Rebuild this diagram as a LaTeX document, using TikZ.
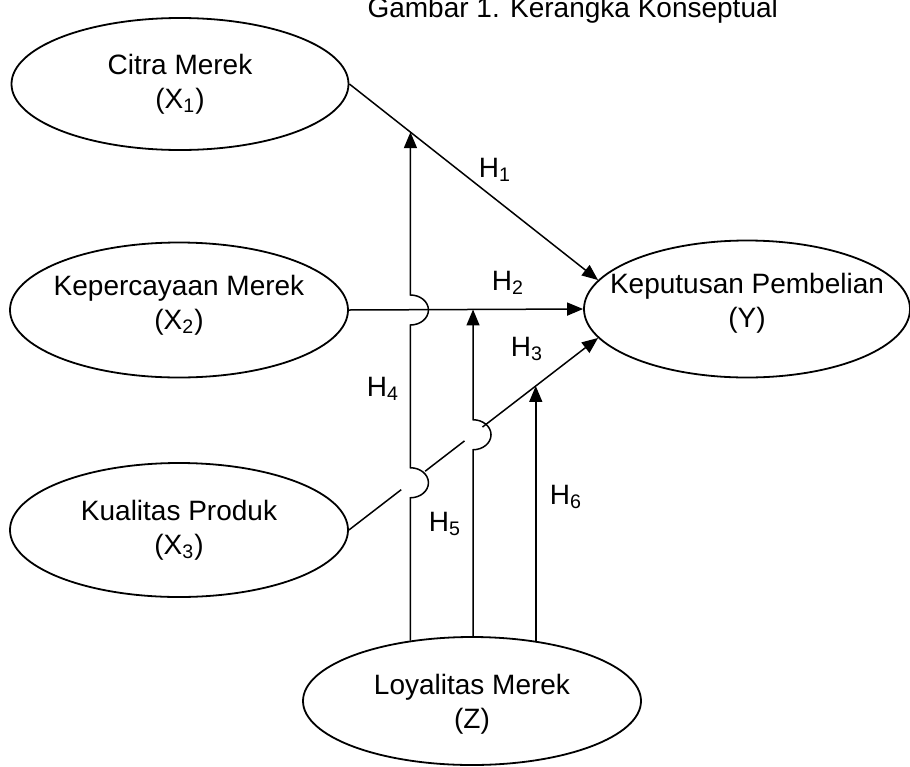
\documentclass[tikz,border=0pt]{standalone}
\usepackage{fontspec}
\setmainfont{Liberation Sans}
\usetikzlibrary{shapes.geometric,arrows.meta,calc}

\begin{document}
\begin{tikzpicture}[x=0.5pt,y=-0.5pt,
    konstruk/.style={draw,ellipse,line width=0.9pt,inner sep=0pt},
    teks/.style={align=center,font=\fontsize{14}{17}\selectfont},
    hlabel/.style={font=\fontsize{14}{17}\selectfont},
    panah/.style={line width=0.75pt,-{Triangle[length=8pt,width=6.5pt]}}]

\useasboundingbox (0,0) rectangle (910,766);

% Title
\node[hlabel,anchor=base east] (judul) at (785,17) {Gambar 1. Kerangka Konseptual};

% Variables
\node[konstruk,minimum width=168.5pt,minimum height=66pt] (citra) at (180,84) {};
\node[teks] at (180,84) {Citra Merek\\(X\textsubscript{1})};
\node[konstruk,minimum width=169pt,minimum height=67.5pt] (percaya) at (179,310) {};
\node[teks] at (179,305) {Kepercayaan Merek\\(X\textsubscript{2})};
\node[konstruk,minimum width=169pt,minimum height=67pt] (kualitas) at (179,530) {};
\node[teks] at (179,530) {Kualitas Produk\\(X\textsubscript{3})};
\node[konstruk,minimum width=163pt,minimum height=68.5pt] (keputusan) at (747,309) {};
\node[teks] at (747,303) {Keputusan Pembelian\\(Y)};
\node[konstruk,minimum width=169pt,minimum height=64pt] (loyal) at (472,701) {};
\node[teks] at (472,704) {Loyalitas Merek\\(Z)};

% Points where the moderating arrows meet
\coordinate (t4) at ($(citra.east)!0.2455!(keputusan.169)$);
\coordinate (t5) at ($(percaya.east)!0.53!(keputusan.west)$);
\coordinate (t6) at ($(kualitas.east)!0.75!(keputusan.191)$);
\coordinate (s4) at ($(kualitas.east)!0.246!(keputusan.191)$);
\coordinate (s5) at ($(kualitas.east)!0.496!(keputusan.191)$);
\coordinate (j4a) at (t4 |- percaya.east);
\coordinate (j4b) at (t4 |- s4);
\coordinate (j5) at (t5 |- s5);

% Direct effects
\draw[panah] (citra.east) -- (keputusan.169);
\draw[panah] (percaya.east) -- (keputusan.west);
\draw[panah] (kualitas.east) -- ($(kualitas.east)!0.21!(keputusan.191)$)
    ($(kualitas.east)!0.306!(keputusan.191)$) -- ($(kualitas.east)!0.464!(keputusan.191)$)
    ($(kualitas.east)!0.536!(keputusan.191)$) -- (keputusan.191);

% Moderation
\draw[panah] (t4 |- loyal.136) -- ([yshift=-7.5pt]j4b)
    arc[start angle=-90,end angle=90,x radius=9pt,y radius=7.5pt]
    -- ([yshift=-7.5pt]j4a)
    arc[start angle=-90,end angle=90,x radius=9pt,y radius=7.5pt] -- (t4);
\draw[panah] (t5 |- loyal.north) -- ([yshift=-7.5pt]j5)
    arc[start angle=-90,end angle=90,x radius=9pt,y radius=7.5pt] -- (t5);
\draw[panah] (t6 |- loyal.42) -- (t6);

% Hypotheses
\node[hlabel] (h1) at (495,170) {H\textsubscript{1}};
\node[hlabel] (h2) at (508,283) {H\textsubscript{2}};
\node[hlabel] (h3) at (527,349) {H\textsubscript{3}};
\node[hlabel] (h4) at (383,389) {H\textsubscript{4}};
\node[hlabel] (h5) at (445,524) {H\textsubscript{5}};
\node[hlabel] (h6) at (566,497) {H\textsubscript{6}};
\end{tikzpicture}
\end{document}
